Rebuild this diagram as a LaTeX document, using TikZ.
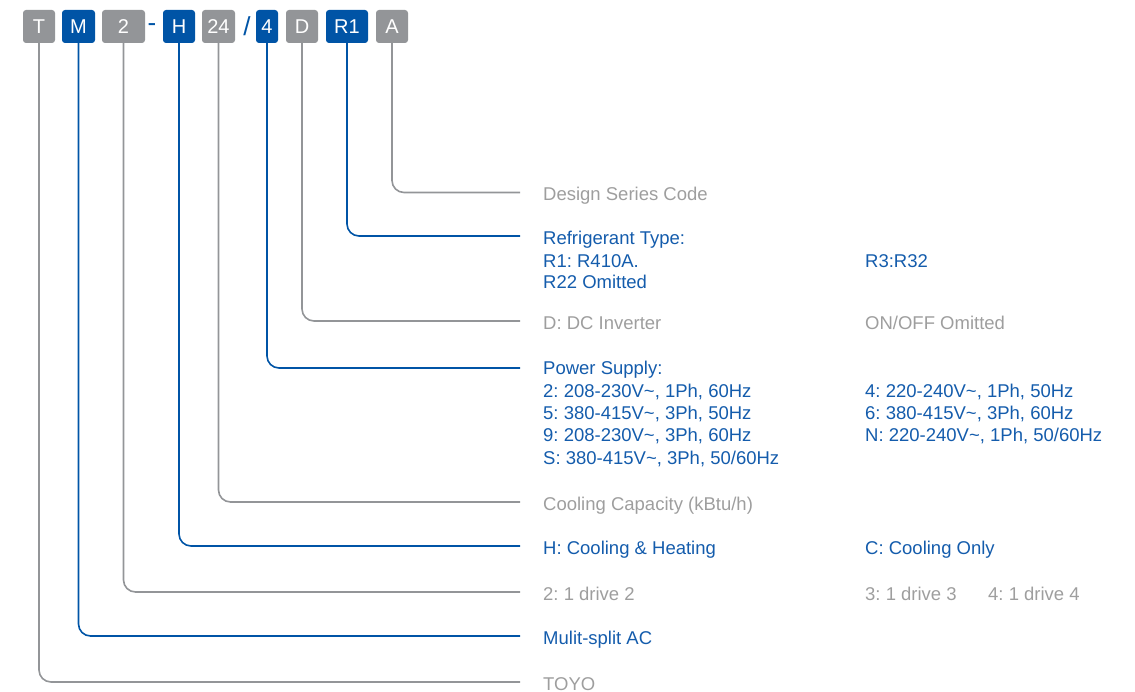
\documentclass[tikz,border=0pt]{standalone}
\usepackage{fontspec}
\setmainfont{Liberation Sans}
\usetikzlibrary{positioning}
\definecolor{blueToyo}{RGB}{0,84,166}
\definecolor{grayToyo}{RGB}{147,149,152}
\definecolor{grayText}{RGB}{158,158,158}
\definecolor{blueText}{RGB}{20,92,172}
\frenchspacing

\begin{document}
\begin{tikzpicture}[
    x=1pt, y=-1pt,
    letra/.style={
        rectangle,
        rounded corners=3pt,
        minimum height=33pt,
        inner sep=0pt,
        text=white,
        font=\fontsize{20}{20}\selectfont
    },
    letraGris/.style={letra, fill=grayToyo},
    letraAzul/.style={letra, fill=blueToyo},
    signo/.style={
        inner sep=0pt,
        text=blueToyo,
        font=\fontsize{20}{20}\selectfont
    },
    textoGris/.style={
        anchor=base west,
        inner sep=0pt,
        text=grayText,
        font=\fontsize{18.5}{22}\selectfont
    },
    textoAzul/.style={textoGris, text=blueText},
    lineaGris/.style={
        draw=grayToyo,
        line width=1.6pt,
        rounded corners=12pt
    },
    lineaAzul/.style={lineaGris, draw=blueToyo}
]

    \useasboundingbox (0,0) rectangle (1135,692);

    % code boxes
    \node[letraGris, minimum width=32pt] (bT) at (39,26.5) {T};
    \node[letraAzul, minimum width=33pt] (bM) at (78.5,26.5) {M};
    \node[letraGris, minimum width=43pt] (b2) at (123.5,26.5) {2};
    \node[signo, font=\fontsize{26}{26}\selectfont] (guion) at (152,27.5) {-};
    \node[letraAzul, minimum width=32pt] (bH) at (179,26.5) {H};
    \node[letraGris, minimum width=33pt] (b24) at (218.5,26.5) {24};
    \node[signo, font=\fontsize{26}{26}\selectfont] (barra) at (247,26.5) {/};
    \node[letraAzul, minimum width=22pt] (b4) at (267,26.5) {4};
    \node[letraGris, minimum width=32pt] (bD) at (302,26.5) {D};
    \node[letraAzul, minimum width=42pt] (bR1) at (347,26.5) {R1};
    \node[letraGris, minimum width=32pt] (bA) at (392,26.5) {A};

    % line ends
    \coordinate (eA) at (520,192.5);
    \coordinate (eR1) at (520,236);
    \coordinate (eD) at (520,321);
    \coordinate (e4) at (520,368);
    \coordinate (e24) at (520,502);
    \coordinate (eH) at (520,546);
    \coordinate (e2) at (520,592);
    \coordinate (eM) at (520,636);
    \coordinate (eT) at (520,682);

    % descriptions
    \node[textoGris] (lA) at (543,200.5) {Design Series Code};
    \node[textoAzul] (lR1) at (543,245) {Refrigerant Type:};
    \node[textoAzul] (lR1a) at (543,268) {R1: R410A.};
    \node[textoAzul] (lR1b) at (543,289) {R22 Omitted};
    \node[textoAzul] (lR1c) at (865,268) {R3:R32};
    \node[textoGris] (lD) at (543,329.5) {D: DC Inverter};
    \node[textoGris] (lDb) at (865,329.5) {ON/OFF Omitted};
    \node[textoAzul] (l4) at (543,374) {Power Supply:};
    \node[textoAzul] (l4a) at (543,397) {2: 208-230V\textasciitilde, 1Ph, 60Hz};
    \node[textoAzul] (l4b) at (543,419) {5: 380-415V\textasciitilde, 3Ph, 50Hz};
    \node[textoAzul] (l4c) at (543,441) {9: 208-230V\textasciitilde, 3Ph, 60Hz};
    \node[textoAzul] (l4d) at (543,464) {S: 380-415V\textasciitilde, 3Ph, 50/60Hz};
    \node[textoAzul] (l4e) at (865,397) {4: 220-240V\textasciitilde, 1Ph, 50Hz};
    \node[textoAzul] (l4f) at (865,419) {6: 380-415V\textasciitilde, 3Ph, 60Hz};
    \node[textoAzul] (l4g) at (865,441) {N: 220-240V\textasciitilde, 1Ph, 50/60Hz};
    \node[textoGris] (l24) at (543,510) {Cooling Capacity (kBtu/h)};
    \node[textoAzul] (lH) at (543,554) {H: Cooling \& Heating};
    \node[textoAzul] (lHb) at (865,554) {C: Cooling Only};
    \node[textoGris] (l2) at (543,600) {2: 1 drive 2};
    \node[textoGris] (l2b) at (865,600) {3: 1 drive 3};
    \node[textoGris] (l2c) at (988,600) {4: 1 drive 4};
    \node[textoAzul] (lM) at (543,644) {Mulit-split AC};
    \node[textoGris] (lT) at (543,690) {TOYO};

    % connectors
    \draw[lineaGris] (bA.south) |- (eA);
    \draw[lineaAzul] (bR1.south) |- (eR1);
    \draw[lineaGris] (bD.south) |- (eD);
    \draw[lineaAzul] (b4.south) |- (e4);
    \draw[lineaGris] (b24.south) |- (e24);
    \draw[lineaAzul] (bH.south) |- (eH);
    \draw[lineaGris] (b2.south) |- (e2);
    \draw[lineaAzul] (bM.south) |- (eM);
    \draw[lineaGris] (bT.south) |- (eT);

\end{tikzpicture}
\end{document}
